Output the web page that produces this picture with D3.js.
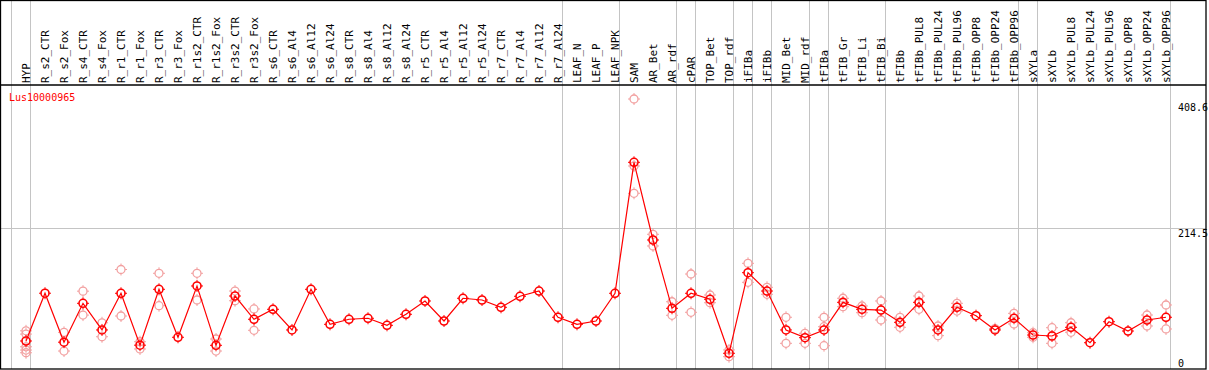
<!DOCTYPE html>
<html>
<head>
<meta charset="utf-8">
<script src="https://cdn.jsdelivr.net/npm/d3@7/dist/d3.min.js"></script>
<style>
  html, body { margin: 0; padding: 0; background: #fff; }
  svg { display: block; }
  text { font-family: "DejaVu Sans Mono", "Liberation Mono", monospace; }
</style>
</head>
<body>
<div id="chart"></div>
<script>
const geneName = "Lus10000965";

const categories = [
  "HYP", "R_s2_CTR", "R_s2_Fox", "R_s4_CTR", "R_s4_Fox", "R_r1_CTR", "R_r1_Fox",
  "R_r3_CTR", "R_r3_Fox", "R_r1s2_CTR", "R_r1s2_Fox", "R_r3s2_CTR", "R_r3s2_Fox",
  "R_s6_CTR", "R_s6_Al4", "R_s6_Al12", "R_s6_Al24", "R_s8_CTR", "R_s8_Al4", "R_s8_Al12",
  "R_s8_Al24", "R_r5_CTR", "R_r5_Al4", "R_r5_Al12", "R_r5_Al24", "R_r7_CTR", "R_r7_Al4",
  "R_r7_Al12", "R_r7_Al24", "LEAF_N", "LEAF_P", "LEAF_NPK", "SAM", "AR_Bet", "AR_rdf",
  "cPAR", "TOP_Bet", "TOP_rdf", "iFIBa", "iFIBb", "MID_Bet", "MID_rdf", "tFIBa",
  "tFIB_Gr", "tFIB_Li", "tFIB_Bi", "tFIBb", "tFIBb_PUL8", "tFIBb_PUL24", "tFIBb_PUL96",
  "tFIBb_OPP8", "tFIBb_OPP24", "tFIBb_OPP96", "sXYLa", "sXYLb", "sXYLb_PUL8",
  "sXYLb_PUL24", "sXYLb_PUL96", "sXYLb_OPP8", "sXYLb_OPP24", "sXYLb_OPP96"
];

// mean expression per sample
const means = [
  44.4, 116.3, 42.6, 101.1, 61, 116.2, 38.1, 122.2, 50, 127.2, 37.9, 112.1, 77.1,
  92.1, 61, 122.2, 69.5, 77.1, 78.6, 68, 84.6, 104.6, 74.5, 108.7, 106.1, 95.1, 111.7,
  119.6, 80.1, 69.5, 74.5, 116.2, 313.3, 196.4, 93.6, 116.2, 107.2, 25.9, 147.2, 119.6,
  61, 49.4, 61, 102.6, 92.1, 91, 72.5, 102.6, 61, 95.1, 82.5, 61, 78.6, 53.4, 51.9,
  65, 41.8, 73.4, 59.4, 76, 80.1
];

// individual replicates
const replicates = [
  [59.7, 54.8, 35.7, 30.8, 26.7], [], [57.4, 29.3], [119.4, 83.4], [71.8, 50.8],
  [152, 82], [43.3, 32.4], [146.3, 97.5], [], [146.3, 106.1], [47.4, 29.3],
  [119.6, 105], [92.6, 60.5], [], [], [], [], [], [], [], [], [], [], [], [], [], [],
  [], [], [], [], [], [408.6, 307.8, 266.7], [205, 187.4], [103.5, 83.1], [145.2, 87.6],
  [113.6, 102], [30.9, 20.8], [161.3, 132.7], [125.2, 114.7], [80.1, 40.9], [56, 40.9],
  [80.1, 65.9, 37.3], [108.7, 96], [97.1, 87], [104.6, 76], [80.1, 65], [112.1, 92.1],
  [67, 52.4], [101.1, 89.5], [], [63], [86, 70], [56.9, 50], [64.4, 40.9], [71.9, 57.5],
  [], [], [], [83.5, 67], [98.6, 62.5]
];

// group separators sit right after these samples (-1 = before the first one)
const separatorsAfter = [-1, 0, 28, 31, 34, 35, 37, 38, 39, 41, 42, 45, 52, 53, 60];

const yTicks = [0, 214.5, 408.6];
const gridTicks = [214.5];

const width = 1209;
const height = 370;
const headerBottom = 85;

const svg = d3.select("#chart")
  .append("svg")
  .attr("width", width)
  .attr("height", height);

const x = d3.scalePoint()
  .domain(categories)
  .range([26, 1166]);

const y = d3.scaleLinear()
  .domain([0, d3.max(yTicks)])
  .range([370.5, 99]);

const step = x.step();
const sepX = (i) => (i < 0 ? x(categories[0]) - step : x(categories[i])) + 4;

// grid
svg.append("g")
  .selectAll("line")
  .data(separatorsAfter)
  .enter()
  .append("line")
  .attr("x1", (d) => sepX(d) + 0.5)
  .attr("x2", (d) => sepX(d) + 0.5)
  .attr("y1", 0)
  .attr("y2", 369)
  .attr("stroke", "#c4c4c4")
  .attr("stroke-width", 1);

svg.append("g")
  .selectAll("line")
  .data(gridTicks)
  .enter()
  .append("line")
  .attr("x1", 1)
  .attr("x2", 1206)
  .attr("y1", (d) => Math.round(y(d)) + 0.5)
  .attr("y2", (d) => Math.round(y(d)) + 0.5)
  .attr("stroke", "#c4c4c4")
  .attr("stroke-width", 1);

// frame
svg.append("rect")
  .attr("x", 0.5)
  .attr("y", 0.5)
  .attr("width", 1205.5)
  .attr("height", 368.5)
  .attr("fill", "none")
  .attr("stroke", "#000")
  .attr("stroke-width", 1.3);

svg.append("line")
  .attr("x1", 0)
  .attr("x2", 1206)
  .attr("y1", headerBottom)
  .attr("y2", headerBottom)
  .attr("stroke", "#000")
  .attr("stroke-width", 1.5);

// sample names
svg.append("g")
  .selectAll("text")
  .data(categories)
  .enter()
  .append("text")
  .attr("transform", (d) => `translate(${x(d) + 3.5},${headerBottom - 2}) rotate(-90)`)
  .attr("fill", "#000")
  .style("font-size", "11px")
  .text((d) => d);

// y labels
svg.append("g")
  .selectAll("text")
  .data(yTicks)
  .enter()
  .append("text")
  .attr("x", 1178)
  .attr("y", (d) => y(d))
  .attr("dy", (d) => (d === 0 ? -4 : d === d3.max(yTicks) ? 12 : 9))
  .attr("fill", "#000")
  .style("font-size", "10px")
  .text((d) => d);

svg.append("text")
  .attr("x", 9)
  .attr("y", 100.5)
  .attr("fill", "#ff0000")
  .style("font-size", "10px")
  .text(geneName);

function marker(sel, color, sw) {
  sel.append("circle")
    .attr("r", 4)
    .attr("fill", "none")
    .attr("stroke", color)
    .attr("stroke-width", sw);
  sel.append("path")
    .attr("d", "M0,-6V-4M0,4V6M-6,0H-4M4,0H6")
    .attr("stroke", color)
    .attr("stroke-width", 1);
}

// replicate points
const repPoints = [];
replicates.forEach((vals, i) => {
  vals.forEach((v) => repPoints.push({ cat: categories[i], v: v }));
});

svg.append("g")
  .selectAll("g")
  .data(repPoints)
  .enter()
  .append("g")
  .attr("transform", (d) => `translate(${x(d.cat)},${y(d.v)})`)
  .call(marker, "#f2a0a0", 1.3);

// mean line
const line = d3.line()
  .x((d, i) => x(categories[i]))
  .y((d) => y(d));

svg.append("path")
  .datum(means)
  .attr("d", line)
  .attr("fill", "none")
  .attr("stroke", "#ff0000")
  .attr("stroke-width", 1.2);

svg.append("g")
  .selectAll("g")
  .data(means)
  .enter()
  .append("g")
  .attr("transform", (d, i) => `translate(${x(categories[i])},${y(d)})`)
  .call(marker, "#ff0000", 1.6);
</script>
</body>
</html>
